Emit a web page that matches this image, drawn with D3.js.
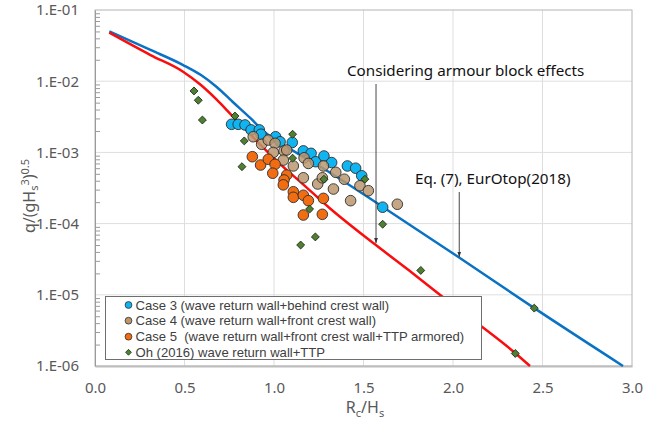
<!DOCTYPE html>
<html>
<head>
<meta charset="utf-8">
<script src="https://cdn.jsdelivr.net/npm/d3@7"></script>
<style>
  body { margin: 0; background: #fff; }
  text { font-family: "Noto Sans", "DejaVu Sans", sans-serif; }
</style>
</head>
<body>
<script>
// values
const case3X = [0.763, 0.80, 0.838, 0.872, 0.918, 0.927, 1.009, 1.034, 1.102, 1.164, 1.207, 1.233, 1.279, 1.322, 1.41, 1.456, 1.49, 1.607];
const case3Y = [2.48e-3, 2.48e-3, 2.43e-3, 2.07e-3, 2.07e-3, 1.8e-3, 1.66e-3, 1.41e-3, 1.38e-3, 1.05e-3, 9.7e-4, 7.4e-4, 8.9e-4, 7.2e-4, 6.45e-4, 6.0e-4, 4.7e-4, 1.7e-4];

const case4X = [0.884, 0.931, 0.968, 1.006, 0.996, 1.056, 1.071, 1.052, 1.108, 1.168, 1.192, 1.276, 1.164, 1.244, 1.27, 1.332, 1.345, 1.393, 1.428, 1.48, 1.527, 1.689];
const case4Y = [1.66e-3, 1.3e-3, 1.49e-3, 1.34e-3, 1.0e-3, 1.05e-3, 1.08e-3, 7.8e-4, 6.45e-4, 8.4e-4, 7.0e-4, 6.45e-4, 4.4e-4, 3.6e-4, 4.4e-4, 3.06e-4, 5.25e-4, 4.2e-4, 2.1e-4, 3.4e-4, 2.9e-4, 1.87e-4];

const case5X = [0.879, 0.925, 0.968, 1.006, 0.993, 1.071, 1.056, 1.052, 1.108, 1.108, 1.164, 1.192, 1.276, 1.164, 1.27];
const case5Y = [8.7e-4, 6.65e-4, 8.0e-4, 6.8e-4, 5.1e-4, 4.8e-4, 4.1e-4, 3.5e-4, 2.8e-4, 2.34e-4, 2.5e-4, 2.1e-4, 2.26e-4, 1.32e-4, 1.35e-4];

const ohX = [0.553, 0.577, 0.60, 0.782, 0.834, 0.821, 1.104, 1.104, 1.279, 1.508, 1.199, 1.607, 1.231, 1.149, 1.82, 2.348, 2.454];
const ohY = [7.3e-3, 5.4e-3, 2.85e-3, 3.24e-3, 1.45e-3, 6.3e-4, 1.8e-3, 8.3e-4, 4.2e-4, 4.2e-4, 1.6e-4, 9.8e-5, 6.5e-5, 5.0e-5, 2.2e-5, 1.5e-6, 6.5e-6];

// EurOtop(2018) curve
const eqX = [0.08, 0.31, 0.49, 0.59, 0.68, 0.77, 0.87, 0.94, 1.05, 1.15, 1.25, 1.61, 2.03, 2.45, 2.95];
const eqY = [5.0e-2, 2.75e-2, 1.7e-2, 1.23e-2, 8.3e-3, 5.1e-3, 3.0e-3, 2.0e-3, 1.29e-3, 9.1e-4, 6.5e-4, 1.7e-4, 3.4e-5, 6.6e-6, 1.0e-6];

// armour block curve
const armX = [0.08, 0.31, 0.49, 0.59, 0.68, 0.76, 0.85, 0.95, 1.05, 1.15, 1.31, 1.56, 1.75, 2.0, 2.35, 2.43];
const armY = [4.8e-2, 2.33e-2, 1.37e-2, 8.9e-3, 5.5e-3, 3.4e-3, 2.0e-3, 1.1e-3, 6.3e-4, 3.8e-4, 1.66e-4, 5.2e-5, 2.24e-5, 7.2e-6, 1.5e-6, 1.0e-6];

const xTicks = [0, 0.5, 1.0, 1.5, 2.0, 2.5, 3.0];
const yTicks = [1e-6, 1e-5, 1e-4, 1e-3, 1e-2, 1e-1];
const legendLabels = [
  "Case 3 (wave return wall+behind crest wall)",
  "Case 4 (wave return wall+front crest wall)",
  "Case 5  (wave return wall+front crest wall+TTP armored)",
  "Oh (2016) wave return wall+TTP"
];

const W = 657, H = 422;
const pl = 95, pr = 632, pt = 10, pb = 366;

const svg = d3.select("body").append("svg")
  .attr("width", W)
  .attr("height", H);

const x = d3.scaleLinear().domain([0, 3]).range([pl, pr]);
const y = d3.scaleLog().domain([1e-6, 1e-1]).range([pb, pt]);

// grid
svg.append("g").selectAll("line")
  .data(xTicks.slice(1, -1))
  .enter().append("line")
  .attr("x1", d => x(d)).attr("x2", d => x(d))
  .attr("y1", pt).attr("y2", pb)
  .attr("stroke", "#dedede");
svg.append("g").selectAll("line")
  .data(yTicks.slice(1, -1))
  .enter().append("line")
  .attr("x1", pl).attr("x2", pr)
  .attr("y1", d => y(d)).attr("y2", d => y(d))
  .attr("stroke", "#dedede");

// plot frame
svg.append("rect")
  .attr("x", pl).attr("y", pt)
  .attr("width", pr - pl).attr("height", pb - pt)
  .attr("fill", "none")
  .attr("stroke", "#b4b4b4");

// x axis
const xAxis = svg.append("g")
  .attr("transform", `translate(0,${pb})`)
  .call(d3.axisBottom(x).tickValues(xTicks).tickSize(0).tickPadding(16).tickFormat(d3.format(".1f")));
xAxis.select(".domain").attr("stroke", "#bdbdbd").attr("stroke-width", 2);
xAxis.selectAll("text").attr("font-size", 15).attr("fill", "#595959")
  .attr("font-family", "Noto Sans");

// y axis
const yAxis = svg.append("g")
  .attr("transform", `translate(${pl},0)`)
  .call(d3.axisLeft(y).tickValues(yTicks).tickSize(0).tickPadding(16)
    .tickFormat(d => "1.E-0" + Math.round(-Math.log10(d))));
yAxis.select(".domain").attr("stroke", "#9a9a9a");
yAxis.selectAll("text").attr("font-size", 15).attr("fill", "#595959")
  .attr("font-family", "Noto Sans");

// minor ticks inside the left axis
const minor = y.ticks().filter(d => yTicks.indexOf(d) < 0);
const yMinor = svg.append("g")
  .attr("transform", `translate(${pl},0)`)
  .call(d3.axisRight(y).tickValues(minor).tickSize(5).tickFormat(""));
yMinor.select(".domain").remove();
yMinor.selectAll("line").attr("stroke", "#9a9a9a");

// curves
const line = d3.line().x(d => x(d[0])).y(d => y(d[1])).curve(d3.curveMonotoneX);
svg.append("path")
  .datum(eqX.map((d, i) => [d, eqY[i]]))
  .attr("d", line)
  .attr("fill", "none")
  .attr("stroke", "#0a72c4")
  .attr("stroke-width", 2.5);
svg.append("path")
  .datum(armX.map((d, i) => [d, armY[i]]))
  .attr("d", line)
  .attr("fill", "none")
  .attr("stroke", "#fa0d0d")
  .attr("stroke-width", 2.5);

// points
function circles(xs, ys, fill, op) {
  svg.append("g").selectAll("circle")
    .data(xs.map((d, i) => [d, ys[i]]))
    .enter().append("circle")
    .attr("cx", d => x(d[0]))
    .attr("cy", d => y(d[1]))
    .attr("r", 5.3)
    .attr("fill", fill)
    .attr("fill-opacity", op)
    .attr("stroke", "#2e2e2e")
    .attr("stroke-width", 0.9);
}
circles(case3X, case3Y, "#10b4f0", 1);
circles(case4X, case4Y, "#bb9670", 0.85);
circles(case5X, case5Y, "#f26c12", 1);

const diamond = d3.symbol().type(d3.symbolDiamond2).size(40);
svg.append("g").selectAll("path")
  .data(ohX.map((d, i) => [d, ohY[i]]))
  .enter().append("path")
  .attr("d", diamond)
  .attr("transform", d => `translate(${x(d[0])},${y(d[1])})`)
  .attr("fill", "#4f7f32")
  .attr("stroke", "#1e2e14")
  .attr("stroke-width", 0.9);

// annotations
svg.append("defs").append("marker")
  .attr("id", "arr")
  .attr("viewBox", "0 0 6 6")
  .attr("refX", 6).attr("refY", 3)
  .attr("markerWidth", 6).attr("markerHeight", 6)
  .attr("orient", "auto")
  .append("path").attr("d", "M0,0.8 L6,3 L0,5.2 Z").attr("fill", "#333");

svg.append("text")
  .attr("x", 347).attr("y", 76)
  .attr("font-size", 15.2)
  .attr("fill", "#111")
  .text("Considering armour block effects");
svg.append("line")
  .attr("x1", x(1.57)).attr("x2", x(1.57))
  .attr("y1", 84).attr("y2", y(5.3e-5))
  .attr("stroke", "#333").attr("stroke-width", 0.9)
  .attr("marker-end", "url(#arr)");

svg.append("text")
  .attr("x", 415).attr("y", 184)
  .attr("font-size", 15.2)
  .attr("fill", "#111")
  .text("Eq. (7), EurOtop(2018)");
svg.append("line")
  .attr("x1", x(2.035)).attr("x2", x(2.035))
  .attr("y1", 192).attr("y2", y(3.4e-5))
  .attr("stroke", "#333").attr("stroke-width", 0.9)
  .attr("marker-end", "url(#arr)");

// legend
const lg = svg.append("g");
lg.append("rect")
  .attr("x", 105.5).attr("y", 296.5)
  .attr("width", 376).attr("height", 63)
  .attr("fill", "#fff")
  .attr("stroke", "#6e6e6e");
const legendY = [305, 320.7, 336.7, 352.3];
const legendFill = ["#10b4f0", "#bb9670", "#f26c12"];
legendLabels.forEach((t, i) => {
  if (i < 3) {
    lg.append("circle")
      .attr("cx", 128.5).attr("cy", legendY[i]).attr("r", 3.4)
      .attr("fill", legendFill[i])
      .attr("stroke", "#2e2e2e").attr("stroke-width", 0.8);
  } else {
    lg.append("path")
      .attr("d", d3.symbol().type(d3.symbolDiamond2).size(22))
      .attr("transform", `translate(128.5,${legendY[i]})`)
      .attr("fill", "#4f7f32")
      .attr("stroke", "#1e2e14").attr("stroke-width", 0.8);
  }
  lg.append("text")
    .attr("x", 135.5).attr("y", legendY[i])
    .attr("dy", "0.35em")
    .attr("font-size", 13.1)
    .style("font-family", "'Liberation Sans', Arial, sans-serif")
    .attr("fill", "#404040")
    .style("white-space", "pre")
    .text(t);
});

// axis titles
const yt = svg.append("text")
  .attr("transform", "translate(35,196) rotate(-90)")
  .attr("text-anchor", "middle")
  .attr("font-size", 16)
  .attr("fill", "#595959");
yt.append("tspan").text("q/(gH");
yt.append("tspan").attr("font-size", 11).attr("dy", 3).text("s");
yt.append("tspan").attr("font-size", 11).attr("dy", -9).text("3");
yt.append("tspan").attr("dy", 6).text(")");
yt.append("tspan").attr("font-size", 11).attr("dy", -6).text("0.5");

const xt = svg.append("text")
  .attr("x", 365).attr("y", 413)
  .attr("text-anchor", "middle")
  .attr("font-size", 16)
  .attr("fill", "#595959");
xt.append("tspan").text("R");
xt.append("tspan").attr("font-size", 11).attr("dy", 4).text("c");
xt.append("tspan").attr("dy", -4).text("/H");
xt.append("tspan").attr("font-size", 11).attr("dy", 4).text("s");
</script>
</body>
</html>
